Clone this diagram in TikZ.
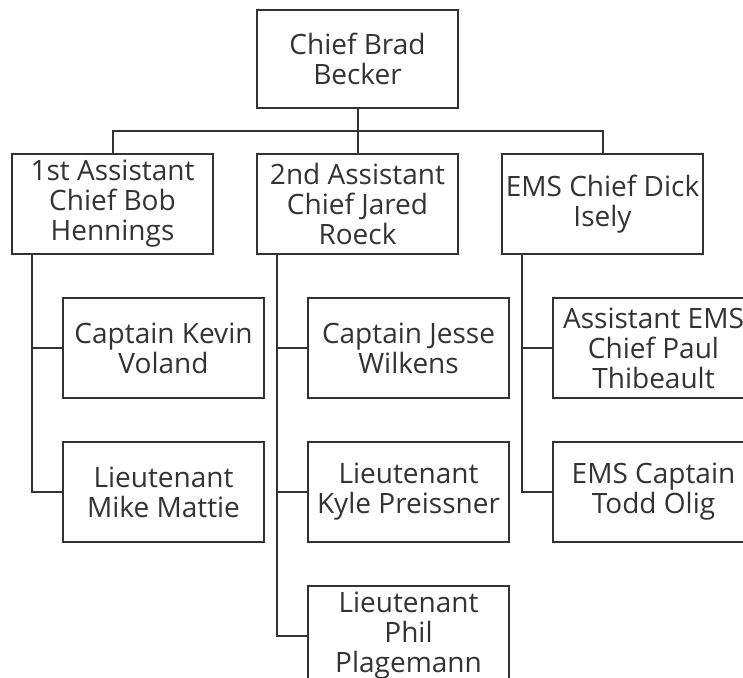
\documentclass[tikz,border=0pt]{standalone}
\usepackage{fontspec}
\setmainfont{Open Sans}
\usetikzlibrary{positioning}

\definecolor{ink}{HTML}{333333}

\begin{document}
\begin{tikzpicture}[x=1pt,y=-1pt,node distance=43pt,
		box/.style={draw=ink,line width=2pt,minimum width=201pt,minimum height=100pt,inner sep=2pt,
			align=center,text=ink,font=\fontsize{28}{30}\selectfont},
		link/.style={draw=ink,line width=2pt}]
		\path[use as bounding box,clip] (0,0) rectangle (743,677);
		% chief and assistants
		\node[box,minimum height=98pt] (chief) at (357.5,59) {Chief Brad\\Becker};
		\node[box] [below=44pt of chief] (asst_2) {2nd Assistant\\Chief Jared\\Roeck};
		\node[box] [left=42pt of asst_2] (asst_1) {1st Assistant\\Chief Bob\\Hennings};
		\node[box] [right=42pt of asst_2] (ems) {EMS Chief Dick\\Isely};
		% first branch
		\node[box] [below=42pt of asst_1,xshift=51pt] (capt_1) {Captain Kevin\\Voland};
		\node[box] [below=42pt of capt_1] (lt_1) {Lieutenant\\Mike Mattie};
		% second branch
		\node[box] [below=42pt of asst_2,xshift=51pt] (capt_2) {Captain Jesse\\Wilkens};
		\node[box] [below=42pt of capt_2] (lt_2) {Lieutenant\\Kyle Preissner};
		\node[box] [below=42pt of lt_2] (lt_3) {Lieutenant\\Phil\\Plagemann};
		% third branch
		\node[box] [below=42pt of ems,xshift=51pt] (ems_2) {Assistant EMS\\Chief Paul\\Thibeault};
		\node[box] [below=42pt of ems_2] (ems_3) {EMS Captain\\Todd Olig};

		\draw[link] (chief.south) -- ++(0,22) coordinate (bus);
		\draw[link] (asst_1.north) |- (bus) -| (ems.north);
		\draw[link] (bus) -- (asst_2.north);

		\coordinate (t_1) at ([xshift=21pt]asst_1.south west);
		\coordinate (t_2) at ([xshift=21pt]asst_2.south west);
		\coordinate (t_3) at ([xshift=21pt]ems.south west);
		\draw[link] (t_1) |- (capt_1.west);
		\draw[link] (t_1) |- (lt_1.west);
		\draw[link] (t_2) |- (capt_2.west);
		\draw[link] (t_2) |- (lt_2.west);
		\draw[link] (t_2) |- (lt_3.west);
		\draw[link] (t_3) |- (ems_2.west);
		\draw[link] (t_3) |- (ems_3.west);
	\end{tikzpicture}
\end{document}
